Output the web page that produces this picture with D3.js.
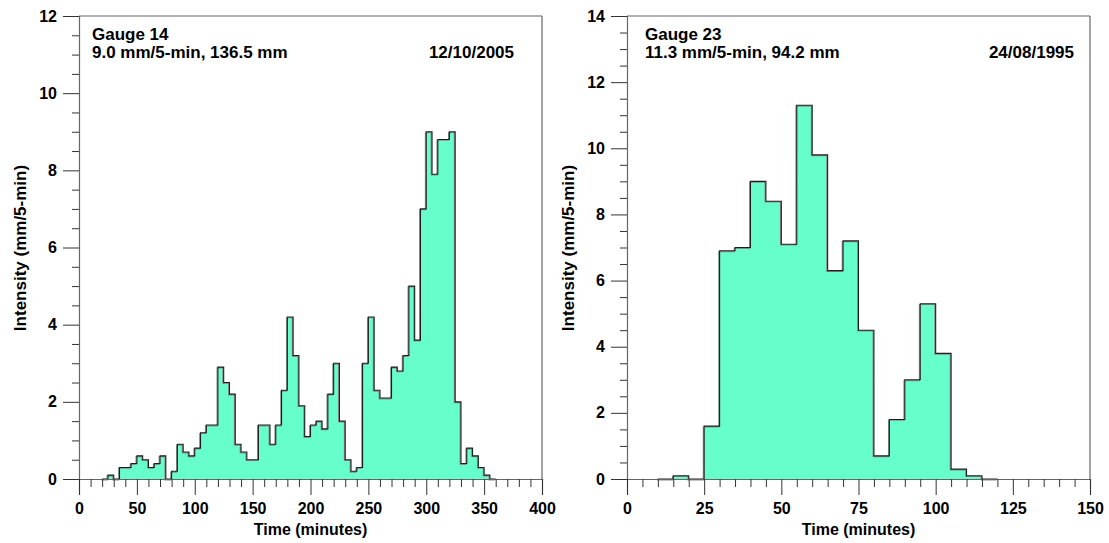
<!DOCTYPE html>
<html>
<head>
<meta charset="utf-8">
<script src="https://cdn.jsdelivr.net/npm/d3@7"></script>
<style>
  html, body { margin: 0; padding: 0; background: #fff; }
  svg { display: block; font-family: "Liberation Sans", Arial, sans-serif; }
</style>
</head>
<body>
<svg id="chart" width="1109" height="543"></svg>
<script>
// ---------- DATA ----------
// Gauge 14: 5-minute bin start times (minutes) and intensities (mm/5-min)
const g14Times = [20, 25, 30, 35, 40, 45, 50, 55, 60, 65, 70, 75, 80, 85, 90, 95,
  100, 105, 110, 115, 120, 125, 130, 135, 140, 145, 150, 155, 160, 165, 170, 175,
  180, 185, 190, 195, 200, 205, 210, 215, 220, 225, 230, 235, 240, 245, 250, 255,
  260, 265, 270, 275, 280, 285, 290, 295, 300, 305, 310, 315, 320, 325, 330, 335,
  340, 345, 350, 355];
const g14Values = [0, 0.1, 0, 0.3, 0.3, 0.4, 0.6, 0.5, 0.3, 0.4, 0.6, 0, 0.2, 0.9, 0.7, 0.6,
  0.8, 1.2, 1.4, 1.4, 2.9, 2.5, 2.2, 0.9, 0.7, 0.5, 0.5, 1.4, 1.4, 0.9, 1.4, 2.3,
  4.2, 3.2, 1.9, 1.1, 1.4, 1.5, 1.3, 2.2, 3.0, 1.5, 0.5, 0.2, 0.3, 3.0, 4.2, 2.3,
  2.1, 2.1, 2.9, 2.8, 3.2, 5.0, 3.6, 7.0, 9.0, 7.9, 8.8, 8.8, 9.0, 2.0, 0.4, 0.8,
  0.6, 0.3, 0.1, 0];

// Gauge 23
const g23Times = [10, 15, 20, 25, 30, 35, 40, 45, 50, 55, 60, 65, 70, 75, 80, 85, 90, 95,
  100, 105, 110, 115];
const g23Values = [0, 0.1, 0, 1.6, 6.9, 7.0, 9.0, 8.4, 7.1, 11.3, 9.8, 6.3, 7.2, 4.5, 0.7, 1.8, 3.0, 5.3,
  3.8, 0.3, 0.1, 0];

const binWidth = 5;

const g14XTicks = [0, 50, 100, 150, 200, 250, 300, 350, 400];
const g14YTicks = [0, 2, 4, 6, 8, 10, 12];
const g23XTicks = [0, 25, 50, 75, 100, 125, 150];
const g23YTicks = [0, 2, 4, 6, 8, 10, 12, 14];

const panels = [
  { times: g14Times, values: g14Values, xMax: 400, yMax: 12, xTicks: g14XTicks, yTicks: g14YTicks,
    xMinor: 10, yMinor: 0.5, gauge: "Gauge 14", stats: "9.0 mm/5-min, 136.5 mm", date: "12/10/2005",
    left: 79, right: 542, textInset: 13, dateInset: 28 },
  { times: g23Times, values: g23Values, xMax: 150, yMax: 14, xTicks: g23XTicks, yTicks: g23YTicks,
    xMinor: 5, yMinor: 0.5, gauge: "Gauge 23", stats: "11.3 mm/5-min, 94.2 mm", date: "24/08/1995",
    left: 627, right: 1090, textInset: 18, dateInset: 16 }
];

// ---------- DRAW ----------
const svg = d3.select("#chart");
const plotTop = 16, plotBottom = 479;
const axisColor = "#666";
const fillColor = "#66ffcc";

panels.forEach(p => {
  const x = d3.scaleLinear().domain([0, p.xMax]).range([p.left, p.right]);
  const y = d3.scaleLinear().domain([0, p.yMax]).range([plotBottom, plotTop]);
  const g = svg.append("g");

  const pts = p.times.map((t, i) => [t, p.values[i]]);
  const last = p.times[p.times.length - 1];
  pts.push([last + binWidth, p.values[p.values.length - 1]]);

  const area = d3.area().curve(d3.curveStepAfter)
    .x(d => x(d[0])).y0(y(0)).y1(d => y(d[1]));
  const line = d3.line().curve(d3.curveStepAfter)
    .x(d => x(d[0])).y(d => y(d[1]));

  g.append("path").attr("d", area(pts)).attr("fill", fillColor).attr("stroke", "none");
  g.append("path").attr("d", line(pts)).attr("fill", "none")
    .attr("stroke", "#8a8a8a").attr("stroke-width", 1.2)
    .attr("transform", "translate(-0.8,0.8)");
  g.append("path").attr("d", line(pts)).attr("fill", "none")
    .attr("stroke", "#1e1e1e").attr("stroke-width", 1.1);

  g.append("line").attr("x1", p.left).attr("x2", p.right).attr("y1", plotTop).attr("y2", plotTop)
    .attr("stroke", axisColor).attr("stroke-width", 1.2);
  g.append("line").attr("x1", p.right).attr("x2", p.right).attr("y1", plotTop).attr("y2", plotBottom)
    .attr("stroke", axisColor).attr("stroke-width", 1.2);

  const yAxis = d3.axisLeft(y).tickValues(p.yTicks).tickSize(16).tickPadding(6).tickFormat(d3.format("d"));
  g.append("g").attr("transform", `translate(${p.left},0)`).call(yAxis);
  const yMinorVals = d3.range(0, p.yMax + 1e-9, p.yMinor).filter(v => !p.yTicks.some(t => Math.abs(t - v) < 1e-9));
  g.append("g").attr("transform", `translate(${p.left},0)`)
    .call(d3.axisLeft(y).tickValues(yMinorVals).tickSize(7).tickFormat(""))
    .call(s => s.select(".domain").remove());

  const xAxis = d3.axisBottom(x).tickValues(p.xTicks).tickSize(16).tickPadding(8).tickFormat(d3.format("d"));
  g.append("g").attr("transform", `translate(0,${plotBottom})`).call(xAxis);
  const xMinorVals = d3.range(0, p.xMax + 1e-9, p.xMinor).filter(v => !p.xTicks.some(t => Math.abs(t - v) < 1e-9));
  g.append("g").attr("transform", `translate(0,${plotBottom})`)
    .call(d3.axisBottom(x).tickValues(xMinorVals).tickSize(8).tickFormat(""))
    .call(s => s.select(".domain").remove());

  g.selectAll(".domain").attr("stroke", axisColor).attr("stroke-width", 1.2);
  g.selectAll(".tick line").attr("stroke", "#333").attr("stroke-width", 1);
  g.selectAll(".tick text").attr("fill", "#000").attr("font-size", "16px").attr("font-weight", "bold")
    .attr("font-family", "'Liberation Sans', Arial, sans-serif");

  g.append("text").attr("x", (p.left + p.right) / 2).attr("y", 535)
    .attr("text-anchor", "middle").attr("font-size", "16px").attr("font-weight", "bold")
    .text("Time (minutes)");
  g.append("text").attr("transform", `translate(${p.left - 53},248) rotate(-90)`)
    .attr("text-anchor", "middle").attr("font-size", "17px").attr("font-weight", "bold")
    .text("Intensity (mm/5-min)");

  g.append("text").attr("x", p.left + p.textInset).attr("y", 40)
    .attr("font-size", "17px").attr("font-weight", "bold").text(p.gauge);
  g.append("text").attr("x", p.left + p.textInset).attr("y", 58)
    .attr("font-size", "17px").attr("font-weight", "bold").text(p.stats);
  g.append("text").attr("x", p.right - p.dateInset).attr("y", 58).attr("text-anchor", "end")
    .attr("font-size", "17px").attr("font-weight", "bold").text(p.date);
});
</script>
</body>
</html>
